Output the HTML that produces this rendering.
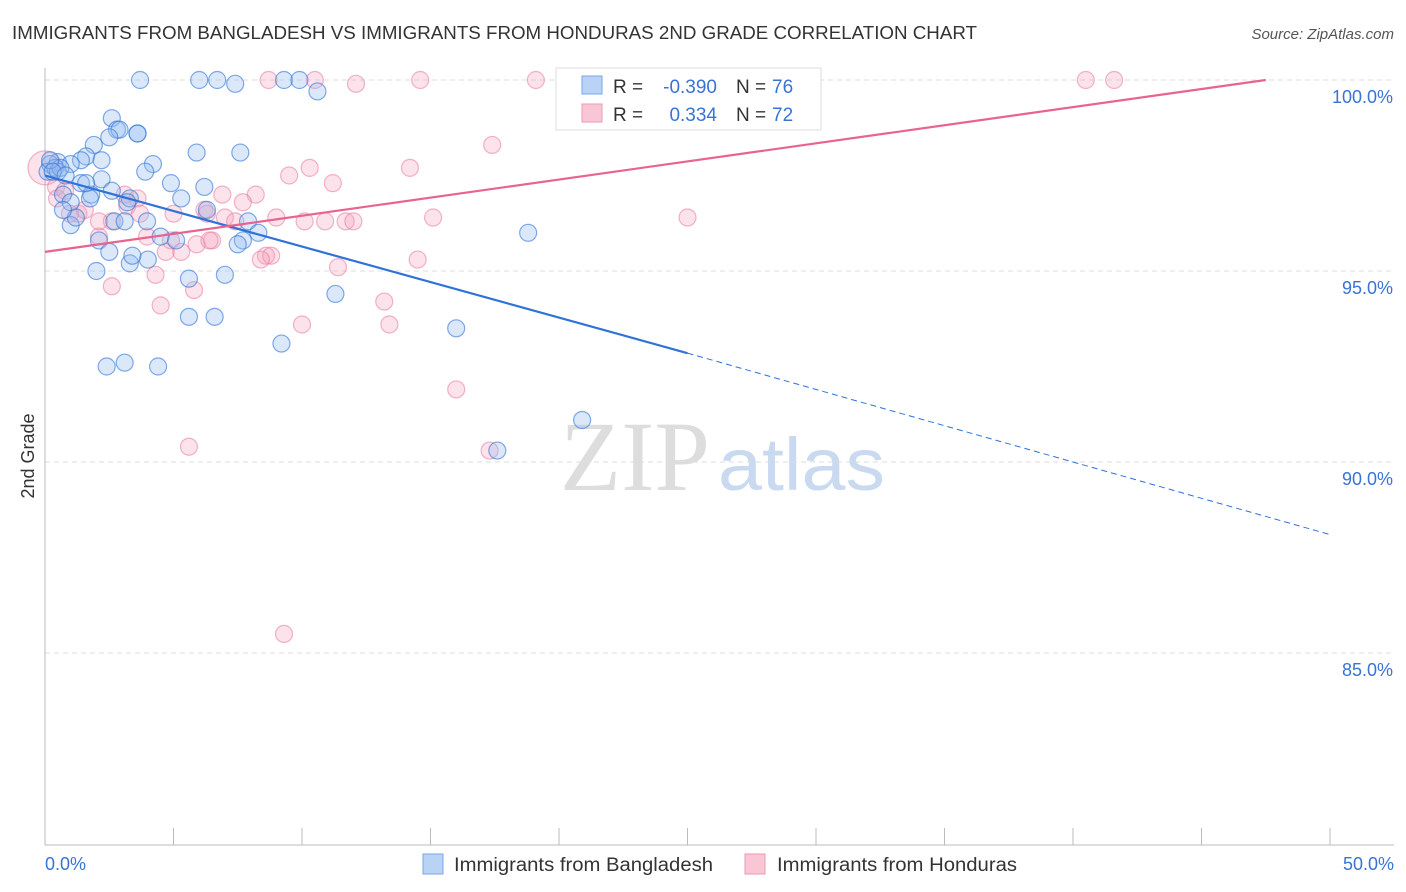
<!DOCTYPE html>
<html><head><meta charset="utf-8">
<style>
body{margin:0;background:#fff;font-family:"Liberation Sans",sans-serif;}
#wrap{position:relative;width:1406px;height:892px;overflow:hidden;}
</style></head>
<body>
<div id="wrap">
<svg id="chart" width="1406" height="892" xmlns="http://www.w3.org/2000/svg">
<text x="12" y="39" font-size="18" fill="#333" textLength="965" lengthAdjust="spacingAndGlyphs">IMMIGRANTS FROM BANGLADESH VS IMMIGRANTS FROM HONDURAS 2ND GRADE CORRELATION CHART</text>
<text x="1394" y="39" font-size="15" fill="#555" font-style="italic" text-anchor="end">Source: ZipAtlas.com</text>
<text x="635" y="490" font-size="100" fill="#ddd" font-family="Liberation Serif,serif" text-anchor="middle">ZIP</text>
<text x="718" y="490" font-size="74" fill="#c9daf0" textLength="167" lengthAdjust="spacingAndGlyphs">atlas</text>
<text x="34" y="456" font-size="18" fill="#333" text-anchor="middle" transform="rotate(-90 34 456)">2nd Grade</text>
<g id="grid"></g><g id="pts"></g><g id="lines"></g>
<g>
<rect x="556" y="68" width="265" height="62" fill="#fff" stroke="#ddd"/>
<rect x="582" y="76" width="20" height="18" fill="#b9d3f5" stroke="#7aa6e6"/>
<rect x="582" y="104" width="20" height="18" fill="#f8c6d5" stroke="#ee9ab3"/>
<text x="613" y="93" font-size="19" fill="#333">R =</text>
<text x="717" y="93" font-size="19" fill="#3873d6" text-anchor="end">-0.390</text>
<text x="736" y="93" font-size="19" fill="#333">N =</text>
<text x="772" y="93" font-size="19" fill="#3873d6">76</text>
<text x="613" y="121" font-size="19" fill="#333">R =</text>
<text x="717" y="121" font-size="19" fill="#3873d6" text-anchor="end">0.334</text>
<text x="736" y="121" font-size="19" fill="#333">N =</text>
<text x="772" y="121" font-size="19" fill="#3873d6">72</text>
</g>
<g>
<rect x="423" y="854" width="20" height="20" fill="#b9d3f5" stroke="#7aa6e6"/>
<text x="454" y="871" font-size="19" fill="#333" textLength="259" lengthAdjust="spacingAndGlyphs">Immigrants from Bangladesh</text>
<rect x="745" y="854" width="20" height="20" fill="#f8c6d5" stroke="#ee9ab3"/>
<text x="777" y="871" font-size="19" fill="#333" textLength="240" lengthAdjust="spacingAndGlyphs">Immigrants from Honduras</text>
</g>
</svg>
</div>
<script>
const yTicks=[100,95,90,85];
const xTickLabels=["0.0%","50.0%"];
const blueX=[3.7,6.0,6.7,7.4,9.3,9.9,10.6,2.6,2.8,2.9,2.5,3.6,3.6,1.9,1.6,1.4,2.2,0.5,0.2,0.1,0.4,1.0,0.5,4.2,3.9,5.9,7.6,4.9,6.2,5.3,2.2,1.4,0.7,1.0,1.8,3.3,1.0,1.2,2.7,3.1,3.97,2.1,2.5,3.3,4.0,3.4,2.0,4.5,5.1,5.6,5.6,6.6,7.0,7.9,8.3,7.7,7.5,6.3,9.2,11.3,16.0,18.8,20.9,17.6,2.4,3.1,4.4,0.6,0.2,0.3,0.8,1.75,3.2,1.6,2.6,0.7];
const blueY=[100,100,100,99.9,100,100,99.7,99.0,98.7,98.7,98.5,98.6,98.6,98.3,98.0,97.9,97.9,97.85,97.8,97.6,97.7,97.8,97.6,97.8,97.6,98.1,98.1,97.3,97.2,96.9,97.4,97.3,97.0,96.8,97.0,96.9,96.2,96.4,96.3,96.3,96.3,95.8,95.5,95.2,95.3,95.4,95.0,95.9,95.8,94.8,93.8,93.8,94.9,96.3,96.0,95.8,95.7,96.6,93.1,94.4,93.5,96.0,91.1,90.3,92.5,92.6,92.5,97.7,97.9,97.6,97.5,96.9,96.8,97.3,97.1,96.6];
const pinkX=[0.0,8.7,10.5,12.1,14.6,19.1,23.7,28.2,40.5,41.6,17.4,14.2,10.3,9.5,11.2,8.2,6.9,3.1,3.6,3.2,5.0,6.2,6.3,7.0,7.4,7.7,9.0,10.1,10.9,11.7,12.0,15.1,25.0,2.1,3.97,4.9,5.9,6.5,6.4,4.7,5.3,8.6,8.8,8.4,3.7,2.6,2.1,1.3,0.97,1.55,0.47,0.43,0.78,2.6,4.3,4.5,5.8,11.4,14.5,13.2,13.4,10.0,16.0,5.6,17.3,9.3];
const pinkY=[97.7,100,100,99.9,100,100,100,100,100,100,98.3,97.7,97.7,97.5,97.3,97.0,97.0,97.0,96.9,96.7,96.5,96.6,96.5,96.4,96.3,96.8,96.4,96.3,96.3,96.3,96.3,96.4,96.4,95.9,95.9,95.8,95.7,95.8,95.8,95.5,95.5,95.4,95.4,95.3,96.5,96.3,96.3,96.5,96.5,96.6,96.9,97.2,97.1,94.6,94.9,94.1,94.5,95.1,95.3,94.2,93.6,93.6,91.9,90.4,90.3,85.5];
const blueFit=[[0,97.5],[25,92.85],[50,88.1]];
const pinkFit=[[0,95.5],[47.5,100]];
const NS="http://www.w3.org/2000/svg";
const X=v=>45+v*25.7, Y=v=>80+(100-v)*38.2;
function mk(t,a,p){const e=document.createElementNS(NS,t);for(const k in a)e.setAttribute(k,a[k]);(p||document.getElementById('chart')).appendChild(e);return e;}
const g=document.getElementById('grid');
yTicks.forEach(t=>{const l=mk('line',{x1:45,x2:1394,y1:Y(t),y2:Y(t),stroke:'#ddd','stroke-dasharray':'5,4'},g);


const tx=mk('text',{x:1393,y:Y(t)+23,'font-size':18,fill:'#3873d6','text-anchor':'end'},g);tx.textContent=t.toFixed(1)+'%';

});
const ax=mk('line',{x1:45,x2:45,y1:68,y2:845,stroke:'#bbb'},g);


const bx=mk('line',{x1:45,x2:1394,y1:845,y2:845,stroke:'#bbb'},g);


for(let i=0;i<=10;i++){const t=mk('line',{x1:X(i*5),x2:X(i*5),y1:828,y2:845,stroke:'#bbb'},g);

}
[[0,'start',45],[50,'end',1394]].forEach((d,i)=>{const t=mk('text',{x:d[2],y:870,'font-size':18,fill:'#3873d6','text-anchor':d[1]},g);t.textContent=xTickLabels[i];

});
const p=document.getElementById('pts');
pinkX.forEach((x,i)=>{const c=mk('circle',{cx:X(x),cy:Y(pinkY[i]),r:i==0?17:8.5,fill:'rgba(244,160,185,0.3)',stroke:'rgba(232,120,155,0.55)','stroke-width':1.2},p);

});
blueX.forEach((x,i)=>{const c=mk('circle',{cx:X(x),cy:Y(blueY[i]),r:8.5,fill:'rgba(150,190,240,0.35)',stroke:'rgba(50,115,215,0.6)','stroke-width':1.2},p);

});
const L=document.getElementById('lines');
const b1=mk('line',{x1:X(blueFit[0][0]),y1:Y(blueFit[0][1]),x2:X(blueFit[1][0]),y2:Y(blueFit[1][1]),stroke:'#2f72d8','stroke-width':2.2},L);


const b2=mk('line',{x1:X(blueFit[1][0]),y1:Y(blueFit[1][1]),x2:X(blueFit[2][0]),y2:Y(blueFit[2][1]),stroke:'#2f72d8','stroke-width':1,'stroke-dasharray':'6,4'},L);


const p1=mk('line',{x1:X(pinkFit[0][0]),y1:Y(pinkFit[0][1]),x2:X(pinkFit[1][0]),y2:Y(pinkFit[1][1]),stroke:'#e8648f','stroke-width':2.2},L);


</script>
</body></html>
